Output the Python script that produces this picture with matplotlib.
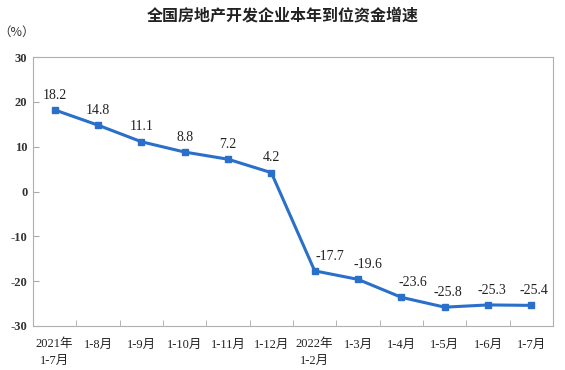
import matplotlib
matplotlib.use("Agg")
import matplotlib.pyplot as plt

categories = ["2021年\n1-7月", "1-8月", "1-9月", "1-10月", "1-11月", "1-12月",
              "2022年\n1-2月", "1-3月", "1-4月", "1-5月", "1-6月", "1-7月"]
values = [18.2, 14.8, 11.1, 8.8, 7.2, 4.2, -17.7, -19.6, -23.6, -25.8, -25.3, -25.4]
yticks = [30, 20, 10, 0, -10, -20, -30]
# horizontal label nudges (points)
label_dx = [0, 0, 0, 0, 0, 0, 11, 7, 8, 2, 3, 2]

fam = ["Liberation Serif", "Noto Sans CJK SC"]
plt.rcParams['font.family'] = fam

fig = plt.figure(figsize=(5.65, 3.7), dpi=100)
ax = fig.add_axes([33/565, 1-326/370, (553-33)/565, (326-57)/370])

x = list(range(len(values)))
color = "#2a6fc9"
ax.plot(x, values, color=color, lw=2.2, marker="s", ms=5, zorder=3)
for xi, v, dx in zip(x, values, label_dx):
    ax.annotate(f"{v:.1f}", (xi, v), xytext=(dx, 6), textcoords="offset points",
                ha="center", va="bottom", fontsize=10, color="#222222")

ax.set_xlim(-0.5, len(values) - 0.5)
ax.set_ylim(-30, 30)
ax.set_yticks(yticks)
ax.set_yticklabels([str(t) for t in yticks], fontsize=9, fontweight="bold", color="#333333")
ax.set_xticks(x)
ax.set_xticklabels(categories, fontsize=9, color="#222222", linespacing=1.5)
ax.set_xticks([i + 0.5 for i in x[:-1]], minor=True)
ax.tick_params(axis="x", which="major", length=0, pad=9)
ax.tick_params(axis="x", which="minor", direction="in", length=4, color="#aaaaaa")
ax.tick_params(axis="y", direction="in", length=4, color="#aaaaaa", pad=4)
for s in ax.spines.values():
    s.set_color("#b0b0b0")
    s.set_linewidth(0.8)

fig.text(0.5, 1 - 15/370, "全国房地产开发企业本年到位资金增速", ha="center", va="center",
         fontsize=11.5, fontweight="bold", family=["Noto Sans CJK SC"], color="#222222")
fig.text(17/565, 1 - 32/370, "（%）", ha="center", va="center", fontsize=9,
         family=["Noto Sans CJK SC"], color="#333333")

fig.savefig("out.png", dpi=100)
